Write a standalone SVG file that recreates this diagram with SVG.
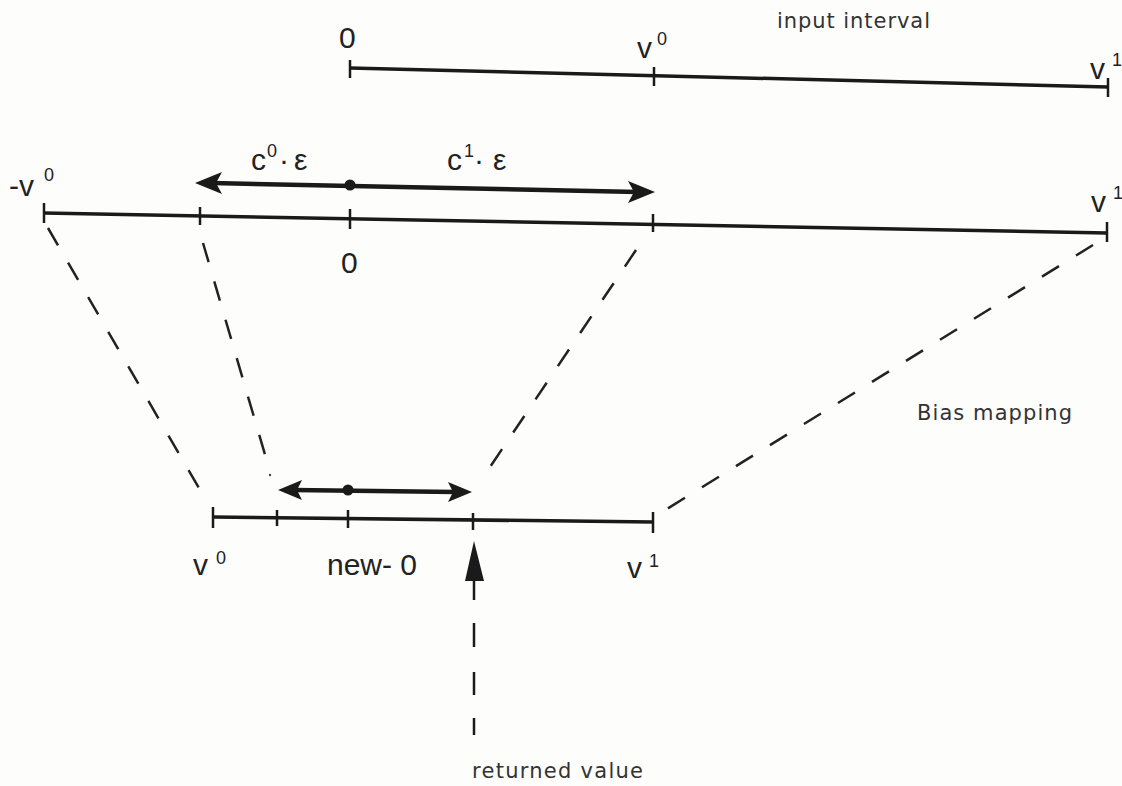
<svg xmlns="http://www.w3.org/2000/svg" width="1122" height="786" viewBox="0 0 1122 786">
<defs>
<style>
.ax{stroke:#1a1a1a;stroke-width:3.5;fill:none;stroke-linecap:butt}
.tk{stroke:#1a1a1a;stroke-width:2.5}
.ds{stroke:#222;stroke-width:2.5;stroke-dasharray:20 20;fill:none}
.ar{stroke:#1a1a1a;stroke-width:4.5;fill:none}
.hd{fill:#1a1a1a}
.t{font-family:"Liberation Sans",Arial,sans-serif;fill:#222}
.lb{font-size:30px}
.sup{font-size:18px}
.sm{font-family:"DejaVu Sans","Liberation Sans",sans-serif;font-size:21px;fill:#333}
</style>
</defs>
<rect width="1122" height="786" fill="#fdfdfb"/>

<g id="input-interval">
<line class="ax" x1="350" y1="68" x2="1108" y2="87"/>
<line class="tk" x1="350" y1="60" x2="350" y2="78"/>
<line class="tk" x1="654" y1="67" x2="654" y2="86"/>
<line class="tk" x1="1108" y1="78" x2="1108" y2="97"/>
<text class="t lb" x="339" y="48">0</text>
<text class="t lb" x="637" y="58">v</text><text class="t sup" x="657" y="45">0</text>
<text class="t lb" x="1090" y="79">v</text><text class="t sup" x="1112" y="66">1</text>
<text class="sm" x="777" y="28" textLength="153" lengthAdjust="spacing">input interval</text>
</g>

<g id="bias-interval">
<line class="ax" x1="44" y1="213" x2="1107" y2="233"/>
<line class="tk" x1="44" y1="203" x2="44" y2="223"/>
<line class="tk" x1="200" y1="207" x2="200" y2="225"/>
<line class="tk" x1="350" y1="209" x2="350" y2="229"/>
<line class="tk" x1="653" y1="214" x2="653" y2="232"/>
<line class="tk" x1="1107" y1="222" x2="1107" y2="242"/>
<text class="t lb" x="9" y="196">-v</text><text class="t sup" x="44" y="181">0</text>
<text class="t lb" x="341" y="273">0</text>
<text class="t lb" x="1091" y="212">v</text><text class="t sup" x="1113" y="199">1</text>
<text class="t lb" x="251" y="170">c</text><text class="t sup" x="267" y="157">0</text><text class="t lb" x="279" y="170">·</text><text class="t lb" x="294" y="170">ε</text>
<text class="t lb" x="447" y="170">c</text><text class="t sup" x="464" y="157">1</text><text class="t lb" x="474" y="170">·</text><text class="t lb" x="493" y="170">ε</text>
<line class="ar" x1="212" y1="183" x2="638" y2="192"/>
<path class="hd" d="M195,183 L222,172 L216,183 L222,194 Z"/>
<path class="hd" d="M655,192 L628,181 L634,192 L628,203 Z"/>
<circle class="hd" cx="350" cy="185" r="5.5"/>
</g>

<g id="connectors">
<line class="ds" x1="48" y1="228" x2="207" y2="502"/>
<line class="ds" x1="203" y1="243" x2="266" y2="458" stroke-dasharray="22 24"/>
<circle cx="270" cy="475" r="1.2" fill="#444"/>
<line class="ds" x1="636" y1="250" x2="488" y2="470"/>
<line class="ds" x1="1093" y1="245" x2="662" y2="512"/>
<text class="sm" x="917" y="420" textLength="155" lengthAdjust="spacing">Bias mapping</text>
</g>

<g id="result-interval">
<line class="ax" x1="213" y1="517" x2="653" y2="522"/>
<line class="tk" x1="213" y1="507" x2="213" y2="528"/>
<line class="tk" x1="277" y1="510" x2="277" y2="526"/>
<line class="tk" x1="348" y1="510" x2="348" y2="528"/>
<line class="tk" x1="473" y1="513" x2="473" y2="530"/>
<line class="tk" x1="653" y1="512" x2="653" y2="533"/>
<text class="t lb" x="193" y="575">v</text><text class="t sup" x="216" y="564">0</text>
<text class="t lb" x="327" y="575">new- 0</text>
<text class="t lb" x="627" y="578">v</text><text class="t sup" x="649" y="567">1</text>
<line class="ar" x1="293" y1="490" x2="456" y2="492"/>
<path class="hd" d="M278,490 L302,480 L297,490 L302,500 Z"/>
<path class="hd" d="M472,492 L448,482 L453,492 L448,502 Z"/>
<circle class="hd" cx="348" cy="490" r="5.5"/>
</g>

<g id="returned-value">
<path class="hd" d="M474,541 L484,581 L465,581 Z"/>
<line class="tk" x1="474" y1="580" x2="474" y2="600"/>
<line class="tk" x1="474" y1="623" x2="474" y2="647" stroke-width="3"/>
<line class="tk" x1="474" y1="672" x2="474" y2="695" stroke-width="3"/>
<line class="tk" x1="474" y1="718" x2="474" y2="735" stroke-width="3"/>
<text class="sm" x="472" y="778" textLength="171" lengthAdjust="spacing">returned value</text>
</g>
</svg>
